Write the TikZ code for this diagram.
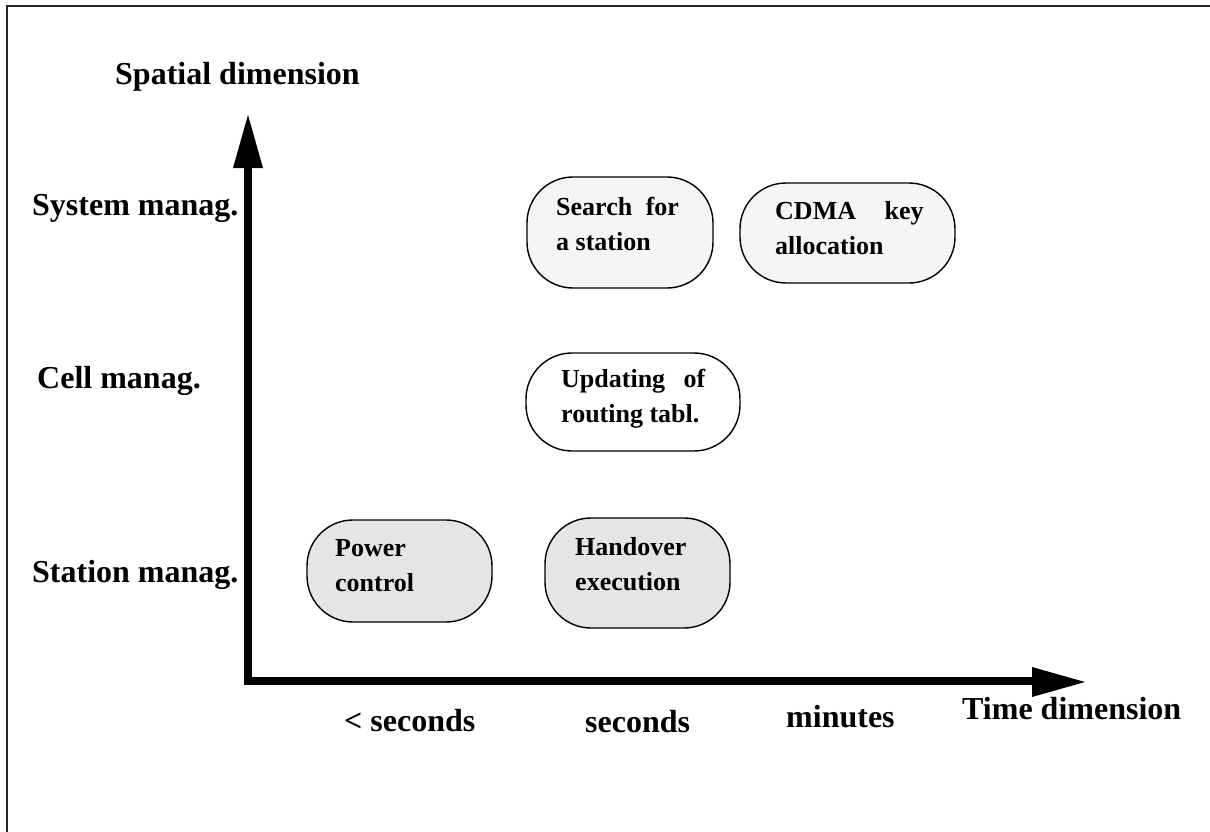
\documentclass[tikz,border=0pt]{standalone}
\usepackage{fontspec}
\setmainfont{Liberation Serif}
\begin{document}
\begin{tikzpicture}[x=1pt,y=-1pt,
  axislbl/.style={font=\fontsize{32}{36}\selectfont\bfseries, inner sep=0pt},
  boxtxt/.style={font=\fontsize{26}{35}\selectfont\bfseries, inner sep=0pt, align=left},
  stad/.style={draw=black, line width=1.4pt, rounded corners=46pt, inner sep=0pt},
  axisline/.style={line width=8pt},
  axishead/.style={fill=black, draw=none}]
\useasboundingbox (0,0) rectangle (1210,832);
% frame (left and top edges)
\draw[line width=2pt, black!85] (7,832) -- (7,6) -- (1210,6);

% axes
\coordinate (origin) at (248,681);
\coordinate (ytip) at (248,115);
\coordinate (xtip) at (1085,682);
\draw[axisline] (248,168) -- (origin) -- (1032,681);
\fill[axishead] (ytip) -- (233,168) -- (263,168) -- cycle;
\fill[axishead] (xtip) -- (1032,667) -- (1032,697) -- cycle;

% axis labels
\node[axislbl, anchor=base west] (yname) at (115,85) {Spatial dimension};
\node[axislbl, anchor=base west, fill=white, inner ysep=7pt] (sysm) at (32,215) {System manag.\hspace{11pt}};
\node[axislbl, anchor=base west] (cellm) at (37,388) {Cell manag.};
\node[axislbl, anchor=base west] (statm) at (32,582) {Station manag.};
\node[axislbl, anchor=base west] (lsec) at (344,731) {< seconds};
\node[axislbl, anchor=base west] (sec) at (585,732) {seconds};
\node[axislbl, anchor=base west] (mins) at (786,727) {minutes};
\node[axislbl, anchor=base west] (xname) at (962,719) {Time dimension};

% activity boxes
\node[stad, fill=black!4, minimum width=186pt, minimum height=111pt] (search) at (620,232.5) {};
\node[stad, fill=black!4, minimum width=215pt, minimum height=100pt] (cdma) at (847.5,233) {};
\node[stad, fill=white, minimum width=214pt, minimum height=98pt] (upd) at (633,402) {};
\node[stad, fill=black!10, minimum width=185pt, minimum height=102pt] (power) at (399.5,571) {};
\node[stad, fill=black!10, minimum width=185pt, minimum height=110pt] (hand) at (637.5,573) {};

% box texts (anchored at the baseline of the last line)
\node[boxtxt, anchor=base west] (searchtxt) at (556,250) {Search\hspace{7pt} for\\a station};
\node[boxtxt, anchor=base west] (cdmatxt) at (775,254) {CDMA\hspace{22pt} key\\allocation};
\node[boxtxt, anchor=base west] (updtxt) at (561,422) {Updating\hspace{12pt} of\\routing tabl.};
\node[boxtxt, anchor=base west] (powertxt) at (335,591) {Power\\control};
\node[boxtxt, anchor=base west] (handtxt) at (575,590) {Handover\\execution};
\end{tikzpicture}
\end{document}
